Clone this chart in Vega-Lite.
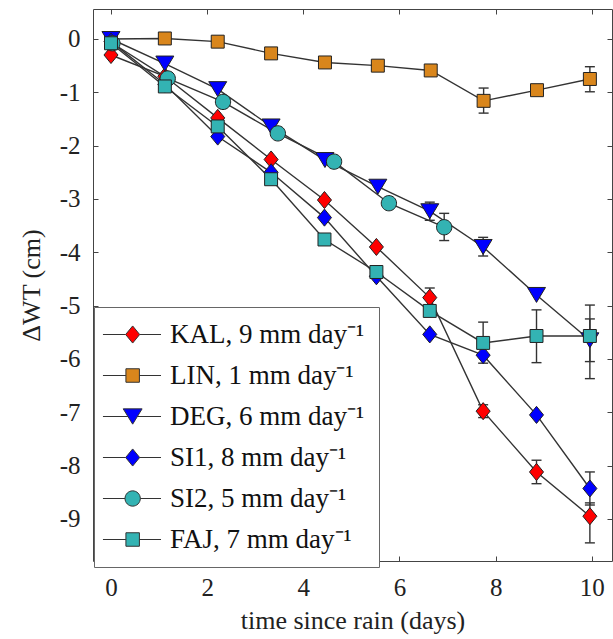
{
  "$schema": "https://vega.github.io/schema/vega-lite/v6.json",
  "autosize": "none",
  "width": 519,
  "height": 552,
  "padding": {"left": 93, "top": 9, "right": 1, "bottom": 78},
  "background": "white",
  "config": {
    "view": {"stroke": "#444", "strokeWidth": 1},
    "font": "Liberation Serif",
    "axis": {
      "grid": false,
      "domain": false,
      "tickColor": "#444",
      "tickSize": -5,
      "labelFont": "Liberation Serif",
      "labelFontSize": 25,
      "labelColor": "#222",
      "titleFont": "Liberation Serif",
      "titleFontSize": 26,
      "titleFontWeight": "normal",
      "titleColor": "#222"
    }
  },
  "data": {
    "values": [
      {"s": "KAL", "x": 0, "y": -0.3},
      {"s": "KAL", "x": 1.12, "y": -0.7},
      {"s": "KAL", "x": 2.22, "y": -1.48},
      {"s": "KAL", "x": 3.33, "y": -2.26},
      {"s": "KAL", "x": 4.44, "y": -3.02},
      {"s": "KAL", "x": 5.52, "y": -3.9},
      {"s": "KAL", "x": 6.63, "y": -4.85, "lo": -5.03, "hi": -4.67},
      {"s": "KAL", "x": 7.74, "y": -6.98, "lo": -7.1, "hi": -6.86},
      {"s": "KAL", "x": 8.85, "y": -8.12, "lo": -8.34, "hi": -7.9},
      {"s": "KAL", "x": 9.96, "y": -8.95, "lo": -9.45, "hi": -8.7},
      {"s": "LIN", "x": 0, "y": 0},
      {"s": "LIN", "x": 1.12, "y": 0.01},
      {"s": "LIN", "x": 2.22, "y": -0.05},
      {"s": "LIN", "x": 3.33, "y": -0.27},
      {"s": "LIN", "x": 4.45, "y": -0.44},
      {"s": "LIN", "x": 5.55, "y": -0.5},
      {"s": "LIN", "x": 6.65, "y": -0.59},
      {"s": "LIN", "x": 7.75, "y": -1.16, "lo": -1.39, "hi": -0.92},
      {"s": "LIN", "x": 8.86, "y": -0.96},
      {"s": "LIN", "x": 9.96, "y": -0.75, "lo": -0.99, "hi": -0.52},
      {"s": "DEG", "x": 0, "y": 0},
      {"s": "DEG", "x": 1.12, "y": -0.46},
      {"s": "DEG", "x": 2.22, "y": -0.94},
      {"s": "DEG", "x": 3.33, "y": -1.64},
      {"s": "DEG", "x": 4.45, "y": -2.27},
      {"s": "DEG", "x": 5.55, "y": -2.77},
      {"s": "DEG", "x": 6.63, "y": -3.23, "lo": -3.4, "hi": -3.06},
      {"s": "DEG", "x": 7.74, "y": -3.9, "lo": -4.07, "hi": -3.72},
      {"s": "DEG", "x": 8.85, "y": -4.8},
      {"s": "DEG", "x": 9.96, "y": -5.65, "lo": -6.05, "hi": -5.25},
      {"s": "SI1", "x": 0, "y": -0.05},
      {"s": "SI1", "x": 1.12, "y": -0.85},
      {"s": "SI1", "x": 2.22, "y": -1.83},
      {"s": "SI1", "x": 3.33, "y": -2.5},
      {"s": "SI1", "x": 4.44, "y": -3.35},
      {"s": "SI1", "x": 5.52, "y": -4.45},
      {"s": "SI1", "x": 6.63, "y": -5.54},
      {"s": "SI1", "x": 7.74, "y": -5.93},
      {"s": "SI1", "x": 8.85, "y": -7.05},
      {"s": "SI1", "x": 9.96, "y": -8.43, "lo": -8.74, "hi": -8.12},
      {"s": "SI2", "x": 0.03, "y": -0.08},
      {"s": "SI2", "x": 1.18, "y": -0.74},
      {"s": "SI2", "x": 2.33, "y": -1.18},
      {"s": "SI2", "x": 3.47, "y": -1.77},
      {"s": "SI2", "x": 4.64, "y": -2.3},
      {"s": "SI2", "x": 5.78, "y": -3.08},
      {"s": "SI2", "x": 6.93, "y": -3.53, "lo": -3.78, "hi": -3.27},
      {"s": "FAJ", "x": 0, "y": -0.08},
      {"s": "FAJ", "x": 1.12, "y": -0.89},
      {"s": "FAJ", "x": 2.22, "y": -1.64},
      {"s": "FAJ", "x": 3.33, "y": -2.63},
      {"s": "FAJ", "x": 4.44, "y": -3.76},
      {"s": "FAJ", "x": 5.52, "y": -4.37},
      {"s": "FAJ", "x": 6.63, "y": -5.1},
      {"s": "FAJ", "x": 7.74, "y": -5.7, "lo": -6.08, "hi": -5.31},
      {"s": "FAJ", "x": 8.85, "y": -5.57, "lo": -6.07, "hi": -5.08},
      {"s": "FAJ", "x": 9.96, "y": -5.57, "lo": -6.37, "hi": -4.99}
    ]
  },
  "resolve": {"axis": {"x": "independent", "y": "independent"}},
  "layer": [
    {
      "mark": {"type": "line", "stroke": "#333", "strokeWidth": 1.4},
      "encoding": {
        "x": {"field": "x", "type": "quantitative", "scale": {"domain": [-0.374, 10.42], "nice": false, "zero": false},
              "axis": {"orient": "bottom", "values": [0, 2, 4, 6, 8, 10], "labelPadding": 19, "title": "time since rain (days)", "titlePadding": 7}},
        "y": {"field": "y", "type": "quantitative", "scale": {"domain": [-9.79, 0.5625], "nice": false, "zero": false},
              "axis": {"orient": "left", "values": [0, -1, -2, -3, -4, -5, -6, -7, -8, -9], "labelPadding": 18, "labelExpr": "'' + datum.value", "title": "ΔWT (cm)", "titlePadding": 15}},
        "detail": {"field": "s"}
      }
    },
    {
      "transform": [{"filter": "isValid(datum.lo)"}],
      "mark": {"type": "rule", "stroke": "#333", "strokeWidth": 1.4},
      "encoding": {
        "x": {"field": "x", "type": "quantitative", "axis": {"orient": "top", "values": [0, 2, 4, 6, 8, 10], "labels": false, "title": null}},
        "y": {"field": "lo", "type": "quantitative", "axis": {"orient": "right", "values": [0, -1, -2, -3, -4, -5, -6, -7, -8, -9], "labels": false, "title": null}},
        "y2": {"field": "hi"}
      }
    },
    {
      "transform": [{"filter": "isValid(datum.lo)"}],
      "mark": {"type": "tick", "orient": "horizontal", "color": "#333", "size": 10, "thickness": 1.4, "opacity": 1},
      "encoding": {
        "x": {"field": "x", "type": "quantitative", "axis": null},
        "y": {"field": "lo", "type": "quantitative", "axis": null}
      }
    },
    {
      "transform": [{"filter": "isValid(datum.hi)"}],
      "mark": {"type": "tick", "orient": "horizontal", "color": "#333", "size": 10, "thickness": 1.4, "opacity": 1},
      "encoding": {
        "x": {"field": "x", "type": "quantitative", "axis": null},
        "y": {"field": "hi", "type": "quantitative", "axis": null}
      }
    },
    {
      "transform": [{"filter": "datum.s == 'KAL'"}],
      "mark": {"type": "point", "shape": "M0,-0.95 L0.78,0 L0,0.95 L-0.78,0 Z", "filled": true, "fill": "#ff0000", "stroke": "#222", "strokeWidth": 1, "size": 324, "opacity": 1},
      "encoding": {
        "x": {"field": "x", "type": "quantitative", "axis": null},
        "y": {"field": "y", "type": "quantitative", "axis": null}
      }
    },
    {
      "transform": [{"filter": "datum.s == 'LIN'"}],
      "mark": {"type": "point", "shape": "M-0.72,-0.72 H0.72 V0.72 H-0.72 Z", "filled": true, "fill": "#d9861c", "stroke": "#222", "strokeWidth": 1, "size": 324, "opacity": 1},
      "encoding": {
        "x": {"field": "x", "type": "quantitative", "axis": null},
        "y": {"field": "y", "type": "quantitative", "axis": null}
      }
    },
    {
      "transform": [{"filter": "datum.s == 'DEG'"}],
      "mark": {"type": "point", "shape": "M-1,-0.83 H1 L0,0.83 Z", "filled": true, "fill": "#0000ff", "stroke": "#222", "strokeWidth": 1, "size": 324, "opacity": 1},
      "encoding": {
        "x": {"field": "x", "type": "quantitative", "axis": null},
        "y": {"field": "y", "type": "quantitative", "axis": null}
      }
    },
    {
      "transform": [{"filter": "datum.s == 'SI1'"}],
      "mark": {"type": "point", "shape": "M0,-0.95 L0.78,0 L0,0.95 L-0.78,0 Z", "filled": true, "fill": "#0000ff", "stroke": "#222", "strokeWidth": 1, "size": 324, "opacity": 1},
      "encoding": {
        "x": {"field": "x", "type": "quantitative", "axis": null},
        "y": {"field": "y", "type": "quantitative", "axis": null}
      }
    },
    {
      "transform": [{"filter": "datum.s == 'SI2'"}],
      "mark": {"type": "point", "shape": "M-0.85,0 A0.85,0.85 0 1,0 0.85,0 A0.85,0.85 0 1,0 -0.85,0 Z", "filled": true, "fill": "#33b3b3", "stroke": "#222", "strokeWidth": 1, "size": 324, "opacity": 1},
      "encoding": {
        "x": {"field": "x", "type": "quantitative", "axis": null},
        "y": {"field": "y", "type": "quantitative", "axis": null}
      }
    },
    {
      "transform": [{"filter": "datum.s == 'FAJ'"}],
      "mark": {"type": "point", "shape": "M-0.72,-0.72 H0.72 V0.72 H-0.72 Z", "filled": true, "fill": "#33b3b3", "stroke": "#222", "strokeWidth": 1, "size": 324, "opacity": 1},
      "encoding": {
        "x": {"field": "x", "type": "quantitative", "axis": null},
        "y": {"field": "y", "type": "quantitative", "axis": null}
      }
    },
    {
      "transform": [{"filter": "false"}],
      "mark": {"type": "point", "filled": true, "strokeWidth": 1, "opacity": 1},
      "encoding": {
        "shape": {
          "field": "s", "type": "nominal",
          "scale": {
            "domain": ["KAL", "LIN", "DEG", "SI1", "SI2", "FAJ"],
            "range": [
              "M-2.06,0 H0.46 M2.02,0 H4.39 M1.24,-0.95 L2.02,0 L1.24,0.95 L0.46,0 Z",
              "M-2.06,0 H0.49 M1.99,0 H4.39 M0.49,-0.75 H1.99 V0.75 H0.49 Z",
              "M-2.06,0 H0.715 M1.765,0 H4.39 M0.19,-0.85 H2.29 L1.24,0.85 Z",
              "M-2.06,0 H0.46 M2.02,0 H4.39 M1.24,-0.95 L2.02,0 L1.24,0.95 L0.46,0 Z",
              "M-2.06,0 H0.39 M2.09,0 H4.39 M0.39,0 A0.85,0.85 0 1,0 2.09,0 A0.85,0.85 0 1,0 0.39,0 Z",
              "M-2.06,0 H0.49 M1.99,0 H4.39 M0.49,-0.75 H1.99 V0.75 H0.49 Z"
            ]
          },
          "legend": {
            "title": null,
            "orient": "none",
            "legendX": 1,
            "legendY": 298,
            "padding": 14,
            "strokeColor": "#666",
            "fillColor": "white",
            "symbolSize": 324,
            "symbolStrokeWidth": 1,
            "labelFont": "Liberation Serif",
            "labelFontSize": 27,
            "labelColor": "#111",
            "labelOffset": 35,
            "rowPadding": 13,
            "labelLimit": 400,
            "labelExpr": "datum.label == 'KAL' ? 'KAL, 9 mm day⁻¹' : datum.label == 'LIN' ? 'LIN, 1 mm day⁻¹' : datum.label == 'DEG' ? 'DEG, 6 mm day⁻¹' : datum.label == 'SI1' ? 'SI1, 8 mm day⁻¹' : datum.label == 'SI2' ? 'SI2, 5 mm day⁻¹' : 'FAJ, 7 mm day⁻¹'"
          }
        },
        "fill": {
          "field": "s", "type": "nominal",
          "scale": {
            "domain": ["KAL", "LIN", "DEG", "SI1", "SI2", "FAJ"],
            "range": ["#ff0000", "#d9861c", "#0000ff", "#0000ff", "#33b3b3", "#33b3b3"]
          }
        },
        "stroke": {
          "field": "s", "type": "nominal",
          "scale": {
            "domain": ["KAL", "LIN", "DEG", "SI1", "SI2", "FAJ"],
            "range": ["#333333", "#333333", "#333333", "#333333", "#333333", "#333333"]
          }
        }
      }
    }
  ]
}
